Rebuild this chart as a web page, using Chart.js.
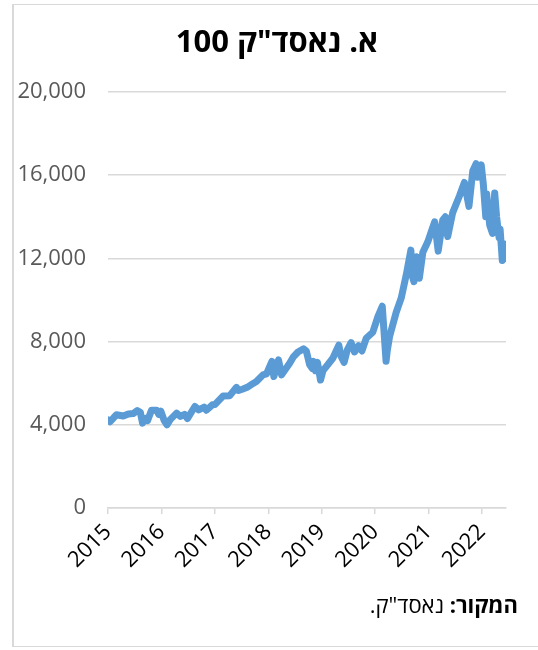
<!DOCTYPE html>
<html lang="he">
<head>
<meta charset="UTF-8">
<title>נאסד"ק 100</title>
<script src="https://cdn.jsdelivr.net/npm/chart.js"></script>
<style>
  body { margin: 0; background: #fff; }
  #wrap { position: relative; width: 538px; height: 650px; overflow: hidden; }
  #frame { position: absolute; left: 12px; top: 4px; width: 540px; height: 643px;
           border: 1px solid #d9d9d9; border-left-width: 2px; box-sizing: border-box; }
  #chart { position: absolute; left: 0; top: 0; }
  .txt { position: absolute; font-family: "Open Sans", "DejaVu Sans", "Liberation Sans", sans-serif; color: #000; white-space: nowrap; }
  #title { left: 0; width: 554px; top: 21px; text-align: center; font-size: 31px; font-weight: bold; line-height: 38px; }
  #source { right: 20px; top: 590px; font-size: 22px; line-height: 28px; }
</style>
</head>
<body>
<div id="wrap">
  <div id="frame"></div>
  <canvas id="chart" width="538" height="650"></canvas>
  <div id="title" class="txt" dir="rtl">א. נאסד"ק 100</div>
  <div id="source" class="txt" dir="rtl"><b>המקור:</b> נאסד"ק.</div>
</div>

<script>
// Nasdaq 100 index level
const dates = [
  '2015-01-02','2015-01-15','2015-02-10','2015-02-28','2015-04-15','2015-05-20','2015-06-22','2015-07-20',
  '2015-08-10','2015-08-25','2015-09-15','2015-09-28','2015-10-25','2015-11-30','2015-12-14','2015-12-28',
  '2016-01-20','2016-02-08','2016-03-01','2016-04-14','2016-05-10','2016-06-08','2016-06-27','2016-08-17',
  '2016-09-12','2016-10-20','2016-11-04','2016-12-15','2017-01-01','2017-02-27','2017-04-13','2017-05-28',
  '2017-06-12','2017-07-12','2017-08-10','2017-09-20','2017-10-12','2017-11-26','2017-12-20','2018-01-26',
  '2018-02-08','2018-03-12','2018-04-02','2018-05-27','2018-06-20','2018-07-23','2018-08-30','2018-09-18',
  '2018-10-10','2018-10-29','2018-11-07','2018-11-20','2018-12-03','2018-12-24','2019-01-10','2019-02-01',
  '2019-03-18','2019-04-28','2019-05-13','2019-06-03','2019-06-25','2019-07-21','2019-08-13','2019-09-10',
  '2019-10-03','2019-11-01','2019-12-16','2020-01-20','2020-02-19','2020-03-16','2020-03-25','2020-04-09',
  '2020-05-24','2020-06-28','2020-08-01','2020-09-02','2020-09-10','2020-09-23','2020-10-12','2020-10-30',
  '2020-11-23','2020-12-27','2021-01-25','2021-02-12','2021-03-08','2021-04-08','2021-04-26','2021-05-12',
  '2021-06-15','2021-07-31','2021-09-03','2021-10-04','2021-10-30','2021-11-22','2021-12-01','2021-12-14',
  '2021-12-27','2022-01-10','2022-01-27','2022-02-02','2022-02-23','2022-03-14','2022-03-29','2022-04-11',
  '2022-04-28','2022-05-05','2022-05-20','2022-05-31','2022-06-10'
];
const values = [
  4230, 4150, 4350, 4480, 4420, 4520, 4540, 4680,
  4600, 4080, 4300, 4200, 4700, 4700, 4500, 4650,
  4200, 4000, 4250, 4560, 4400, 4500, 4300, 4880,
  4720, 4850, 4700, 4960, 4970, 5390, 5400, 5800,
  5650, 5720, 5800, 5990, 6080, 6400, 6450, 7050,
  6320, 7120, 6400, 6960, 7250, 7500, 7650, 7550,
  6900, 6700, 7050, 6600, 7000, 6150, 6600, 6800,
  7200, 7830, 7300, 7000, 7600, 7950, 7500, 7800,
  7550, 8160, 8450, 9200, 9700, 7050, 7600, 8240,
  9400, 10100, 11200, 12400, 11200, 10880, 12080, 11050,
  12300, 12800, 13400, 13760, 12350, 13850, 14000, 13050,
  14200, 15000, 15650, 14500, 16200, 16550, 15900, 16100,
  16500, 15600, 14000, 15100, 13600, 13200, 15150, 14000,
  13000, 13400, 11900, 12700, 12000
];
const yearTicks = [2015, 2016, 2017, 2018, 2019, 2020, 2021, 2022];
const yTicks = [0, 4000, 8000, 12000, 16000, 20000];

function toYear(d) {
  const p = d.split('-').map(Number);
  const start = Date.UTC(p[0], 0, 1);
  const end = Date.UTC(p[0] + 1, 0, 1);
  return p[0] + (Date.UTC(p[0], p[1] - 1, p[2]) - start) / (end - start);
}

const points = dates.map((d, i) => ({ x: toYear(d), y: values[i] }));

new Chart(document.getElementById('chart'), {
  type: 'line',
  data: {
    datasets: [{
      data: points,
      borderColor: '#5b9bd5',
      borderWidth: 7,
      borderCapStyle: 'round',
      borderJoinStyle: 'round',
      pointRadius: 0,
      tension: 0
    }]
  },
  options: {
    responsive: false,
    animation: false,
    devicePixelRatio: 1,
    layout: { padding: { top: 92, right: 32, left: 0, bottom: 0 } },
    plugins: { legend: { display: false }, tooltip: { enabled: false } },
    scales: {
      x: {
        type: 'linear',
        min: 2015,
        max: 2022.45,
        afterBuildTicks: s => { s.ticks = yearTicks.map(v => ({ value: v })); },
        afterFit: s => { s.height = 142; },
        grid: { drawOnChartArea: false, drawTicks: true, tickLength: 6, color: '#d9d9d9', lineWidth: 1.5 },
        border: { color: '#d9d9d9', width: 1.5 },
        ticks: {
          minRotation: 45, maxRotation: 45, padding: 5,
          color: '#000',
          font: { family: '"Open Sans", "DejaVu Sans", sans-serif', size: 22 },
          callback: v => String(v)
        }
      },
      y: {
        min: 0,
        max: 20000,
        afterBuildTicks: s => { s.ticks = yTicks.map(v => ({ value: v })); },
        afterFit: s => { s.width = 108; },
        grid: { drawTicks: false, color: '#d9d9d9', lineWidth: 1.5 },
        border: { display: false },
        ticks: {
          padding: 22,
          color: '#595959',
          font: { family: '"Open Sans", "DejaVu Sans", sans-serif', size: 22 },
          callback: v => v.toLocaleString('en-US')
        }
      }
    }
  }
});
</script>
</body>
</html>
